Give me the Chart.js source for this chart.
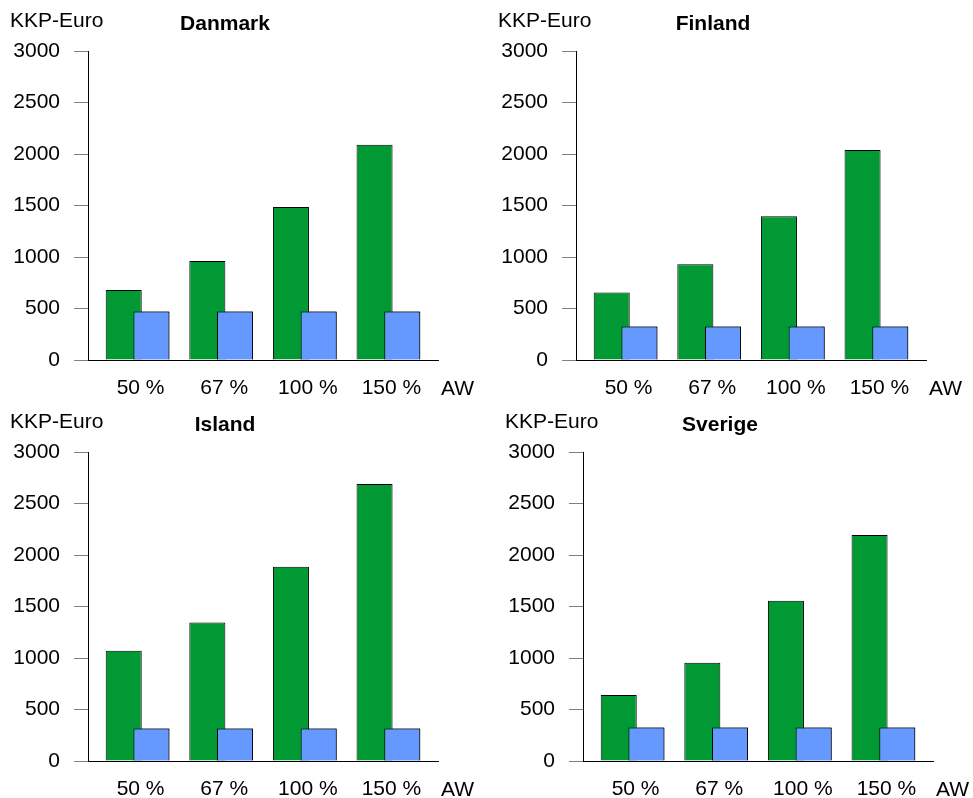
<!DOCTYPE html>
<html lang="da">
<head>
  <meta charset="UTF-8">
  <title>KKP-Euro - Danmark, Finland, Island, Sverige</title>
  <script src="https://cdn.jsdelivr.net/npm/chart.js"></script>
  <style>
    html, body { margin: 0; padding: 0; background: #ffffff; overflow: hidden; }
    canvas { position: absolute; }
  </style>
</head>
<body>
  <canvas id="danmark" width="478" height="397" style="left:0px;top:0px"></canvas>
  <canvas id="finland" width="478" height="397" style="left:488px;top:0px"></canvas>
  <canvas id="island" width="478" height="397" style="left:0px;top:401px"></canvas>
  <canvas id="sverige" width="478" height="397" style="left:495px;top:401px"></canvas>

  <script>
    // data
    const categories = ['50 %', '67 %', '100 %', '150 %'];
    const yMax = 3000;
    const yStep = 500;
    const unitLabel = 'KKP-Euro';
    const axisLabel = 'AW';

    const danmarkGreen = [680, 960, 1485, 2090];
    const danmarkBlue = [470, 470, 470, 470];
    const finlandGreen = [655, 930, 1395, 2040];
    const finlandBlue = [325, 325, 325, 325];
    const islandGreen = [1070, 1345, 1885, 2690];
    const islandBlue = [315, 315, 315, 315];
    const sverigeGreen = [640, 955, 1555, 2195];
    const sverigeBlue = [325, 325, 325, 325];

    const FONT = '"Liberation Sans", Arial, sans-serif';
    const green = '#009933';
    const blue = '#6699ff';
    const xMin = -0.593, xMax = 3.593;   // room left/right of first/last group

    // texts round the plot + put the blue bars on top of the green ones
    const panelText = {
      id: 'panelText',
      afterDatasetsDraw(chart) {
        const meta = chart.getDatasetMeta(1);
        meta.data.forEach(el => el.draw(chart.ctx));
      },
      afterDraw(chart, args, opts) {
        const { ctx, chartArea } = chart;
        ctx.save();
        ctx.fillStyle = '#000';
        ctx.textBaseline = 'alphabetic';
        ctx.font = '21px ' + FONT;
        ctx.textAlign = 'left';
        ctx.fillText(unitLabel, chartArea.left - 78, chartArea.top - 24);
        ctx.fillText(axisLabel, chartArea.right + 3, chartArea.bottom + 35);
        ctx.font = 'bold 21px ' + FONT;
        ctx.textAlign = 'center';
        ctx.fillText(opts.title, chartArea.left + 137, chartArea.top - 21);
        ctx.restore();
      }
    };

    function lagPanel(id, title, gruen, blaa) {
      new Chart(document.getElementById(id), {
        type: 'bar',
        data: {
          labels: categories.map((c, i) => i),
          datasets: [
            { label: 'A', data: gruen, backgroundColor: green, borderColor: '#000', borderWidth: 1 },
            { label: 'B', data: blaa, backgroundColor: blue, borderColor: '#000', borderWidth: 1 }
          ]
        },
        options: {
          responsive: false,
          animation: false,
          devicePixelRatio: 1,
          categoryPercentage: 0.663,
          barPercentage: 1.3,
          layout: { padding: { top: 51, right: 40, left: 0, bottom: 0 } },
          plugins: {
            legend: { display: false },
            tooltip: { enabled: false },
            panelText: { title: title }
          },
          scales: {
            x: {
              type: 'linear',
              offset: false,
              bounds: 'data',
              min: xMin,
              max: xMax,
              afterDataLimits: s => { s.min = xMin; s.max = xMax; },
              afterBuildTicks: s => {
                s.ticks = categories.map((c, i) => ({ value: i }));
                s.min = xMin; s.max = xMax;
              },
              afterFit: s => { s.height = 37; },
              grid: { display: false, drawTicks: false, offset: false },
              border: { color: '#000', width: 1 },
              ticks: {
                callback: v => categories[v],
                color: '#000',
                padding: 16,
                labelOffset: 3,
                maxRotation: 0,
                autoSkip: false,
                includeBounds: false,
                font: { family: FONT, size: 21 }
              }
            },
            y: {
              min: 0,
              max: yMax,
              afterFit: s => { s.width = 88; },
              grid: { drawOnChartArea: false, drawTicks: true, tickLength: 14, color: '#808080' },
              border: { color: '#000', width: 1 },
              ticks: {
                stepSize: yStep,
                callback: v => String(v),
                color: '#000',
                padding: 14,
                font: { family: FONT, size: 21 }
              }
            }
          }
        },
        plugins: [panelText]
      });
    }

    lagPanel('danmark', 'Danmark', danmarkGreen, danmarkBlue);
    lagPanel('finland', 'Finland', finlandGreen, finlandBlue);
    lagPanel('island', 'Island', islandGreen, islandBlue);
    lagPanel('sverige', 'Sverige', sverigeGreen, sverigeBlue);
  </script>
</body>
</html>
